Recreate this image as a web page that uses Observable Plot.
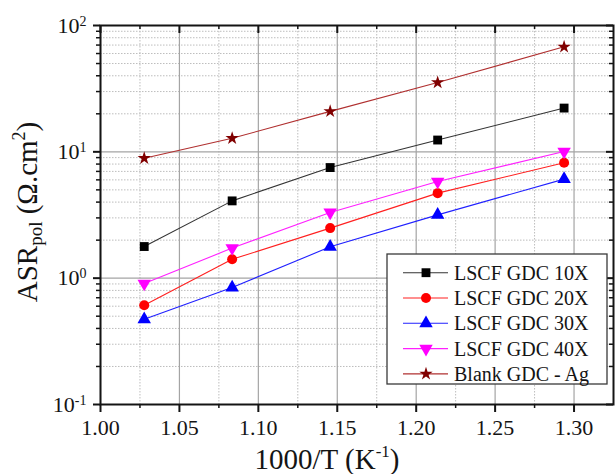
<!DOCTYPE html>
<html>
<head>
<meta charset="utf-8">
<script src="https://cdn.jsdelivr.net/npm/d3@7"></script>
<script src="https://cdn.jsdelivr.net/npm/@observablehq/plot@0.6"></script>
<style>
  body { margin: 0; background: #fff; }
  #chart svg { display: block; }
</style>
</head>
<body>
<div id="chart"></div>
<script>
// Reciprocal temperature, 1000/T (K^-1), for 700, 650, 600, 550 and 500 °C
const invT = [1.0277, 1.0834, 1.1455, 1.2136, 1.2937];

// Polarisation resistance, ASR_pol (Ω·cm²)
const lscf10 = [1.78, 4.09, 7.51, 12.4, 22.2];
const lscf20 = [0.611, 1.41, 2.49, 4.71, 8.19];
const lscf30 = [0.473, 0.843, 1.77, 3.17, 6.08];
const lscf40 = [0.906, 1.73, 3.31, 5.82, 10.05];
const blankAg = [8.9, 12.8, 20.9, 35.4, 67.8];

const seriesNames = ["LSCF GDC 10X", "LSCF GDC 20X", "LSCF GDC 30X", "LSCF GDC 40X", "Blank GDC - Ag"];
const seriesValues = [lscf10, lscf20, lscf30, lscf40, blankAg];

// Axis ticks
const xMajor = [1.00, 1.05, 1.10, 1.15, 1.20, 1.25, 1.30];
const xMinor = [1.025, 1.075, 1.125, 1.175, 1.225, 1.275];
const yMajor = [0.1, 1, 10, 100];
const yMinor = [0.1, 1, 10].flatMap(d => [2, 3, 4, 5, 6, 7, 8, 9].map(k => +(k * d).toPrecision(3)));

// Marker and line styles
const sqrt3 = Math.sqrt(3);
const triangleDown = {
  draw(context, size) {
    const y = -Math.sqrt(size / (sqrt3 * 3));
    context.moveTo(0, -y * 2);
    context.lineTo(-sqrt3 * y, y);
    context.lineTo(sqrt3 * y, y);
    context.closePath();
  }
};
const styles = [
  {color: "#000000", line: "#333333", symbol: "square", r: 5},
  {color: "#ff0000", line: "#ff2020", symbol: "circle", r: 5},
  {color: "#0000ff", line: "#2020ff", symbol: "triangle", r: 5},
  {color: "#ff00ff", line: "#ff20ff", symbol: triangleDown, r: 5},
  {color: "#800000", line: "#b03030", symbol: "star", r: 4.2}
];

const rows = seriesNames.map((name, i) => invT.map((x, j) => ({name, x, y: seriesValues[i][j]})));

const W = 615, H = 474;
const mL = 100, mR = 2, mT = 25, mB = 70;
const fw = W - mL - mR, fh = H - mT - mB;
const ink = "#141414";

const chart = Plot.plot({
  width: W,
  height: H,
  marginLeft: mL,
  marginRight: mR,
  marginTop: mT,
  marginBottom: mB,
  style: {fontFamily: "'Liberation Serif', 'Times New Roman', serif", fontSize: "22px", color: ink, background: "#fff"},
  x: {domain: [1.0, 1.325]},
  y: {type: "log", domain: [0.1, 100]},
  marks: [
    // grid
    Plot.gridX(xMinor, {stroke: "#bdbdbd", strokeOpacity: 1, strokeDasharray: "1.5,1.5"}),
    Plot.gridY(yMinor, {stroke: "#bdbdbd", strokeOpacity: 1, strokeDasharray: "1.5,1.5"}),
    Plot.gridX(xMajor, {stroke: "#a4a4a4", strokeOpacity: 1, strokeWidth: 1.2}),
    Plot.gridY(yMajor, {stroke: "#a4a4a4", strokeOpacity: 1, strokeWidth: 1.2}),
    // tick labels
    Plot.axisX(xMajor, {tickSize: 0, tickPadding: 15, tickFormat: d3.format(".2f"), label: null, fontSize: 22}),
    Plot.axisY(yMajor, {tickSize: 0, tickPadding: 14, tickFormat: d => "10^" + Math.round(Math.log10(d)), label: null, fontSize: 22}),
    // tick marks: outward at bottom/left, inward at top/right
    Plot.ruleX(xMajor, {stroke: ink, strokeWidth: 2, insetTop: fh, insetBottom: -8}),
    Plot.ruleX(xMinor, {stroke: ink, strokeWidth: 1.5, insetTop: fh, insetBottom: -4}),
    Plot.ruleX(xMajor, {stroke: ink, strokeWidth: 2, insetBottom: fh - 8}),
    Plot.ruleX(xMinor, {stroke: ink, strokeWidth: 1.5, insetBottom: fh - 4}),
    Plot.ruleY(yMajor, {stroke: ink, strokeWidth: 2, insetRight: fw, insetLeft: -7}),
    Plot.ruleY(yMinor, {stroke: ink, strokeWidth: 1.5, insetRight: fw, insetLeft: -4}),
    Plot.ruleY(yMajor, {stroke: ink, strokeWidth: 2, insetLeft: fw - 7}),
    Plot.ruleY(yMinor, {stroke: ink, strokeWidth: 1.5, insetLeft: fw - 4}),
    // series
    ...rows.map((data, i) => Plot.line(data, {x: "x", y: "y", stroke: styles[i].line, strokeWidth: 1.1})),
    ...rows.map((data, i) => Plot.dot(data, {x: "x", y: "y", symbol: styles[i].symbol, r: styles[i].r, fill: styles[i].color, stroke: "none"})),
    Plot.frame({stroke: ink, strokeWidth: 2})
  ]
});

document.getElementById("chart").append(chart);

const svg = d3.select(chart);
const font = "'Liberation Serif', 'Times New Roman', serif";

// Powers of ten as superscripts on the y tick labels
svg.selectAll('g[aria-label="y-axis tick label"] text').each(function () {
  const t = d3.select(this);
  const [base, exp] = t.text().split("^");
  t.text(base);
  t.append("tspan").attr("dy", "-0.5em").attr("font-size", 14).text(exp);
});

// Axis titles
const xt = svg.append("text")
  .attr("x", 327).attr("y", 469)
  .attr("text-anchor", "middle")
  .attr("font-family", font).attr("font-size", 29).attr("fill", ink)
  .text("1000/T (K");
xt.append("tspan").attr("dy", -12).attr("font-size", 17).text("-1");
xt.append("tspan").attr("dy", 12).text(")");

const yt = svg.append("text")
  .attr("transform", "translate(37,212) rotate(-90)")
  .attr("text-anchor", "middle")
  .attr("font-family", font).attr("font-size", 29).attr("fill", ink)
  .text("ASR");
yt.append("tspan").attr("dy", 5).attr("font-size", 19).text("pol");
yt.append("tspan").attr("dy", -5).text(" (Ω.cm");
yt.append("tspan").attr("dy", -12).attr("font-size", 18).text("2");
yt.append("tspan").attr("dy", 12).text(")");

// Legend
const lg = svg.append("g")
  .attr("font-family", font).attr("font-size", 20).attr("fill", ink)
  .attr("text-anchor", "start");
lg.append("rect")
  .attr("x", 387).attr("y", 254).attr("width", 220).attr("height", 130)
  .attr("fill", "#fff").attr("stroke", "#3a3a3a").attr("stroke-width", 1.3);
seriesNames.forEach((name, i) => {
  const y = 272.7 + i * 25.3;
  const s = styles[i];
  lg.append("line").attr("x1", 403).attr("x2", 448).attr("y1", y).attr("y2", y)
    .attr("stroke", s.line).attr("stroke-width", 1.1);
  const sym = typeof s.symbol === "string"
    ? {square: d3.symbolSquare, circle: d3.symbolCircle, triangle: d3.symbolTriangle, star: d3.symbolStar}[s.symbol]
    : s.symbol;
  lg.append("path")
    .attr("transform", `translate(426,${y})`)
    .attr("d", d3.symbol(sym, Math.PI * s.r * s.r)())
    .attr("fill", s.color);
  lg.append("text").attr("x", 454).attr("y", y + 7).attr("text-anchor", "start").text(name);
});
</script>
</body>
</html>
